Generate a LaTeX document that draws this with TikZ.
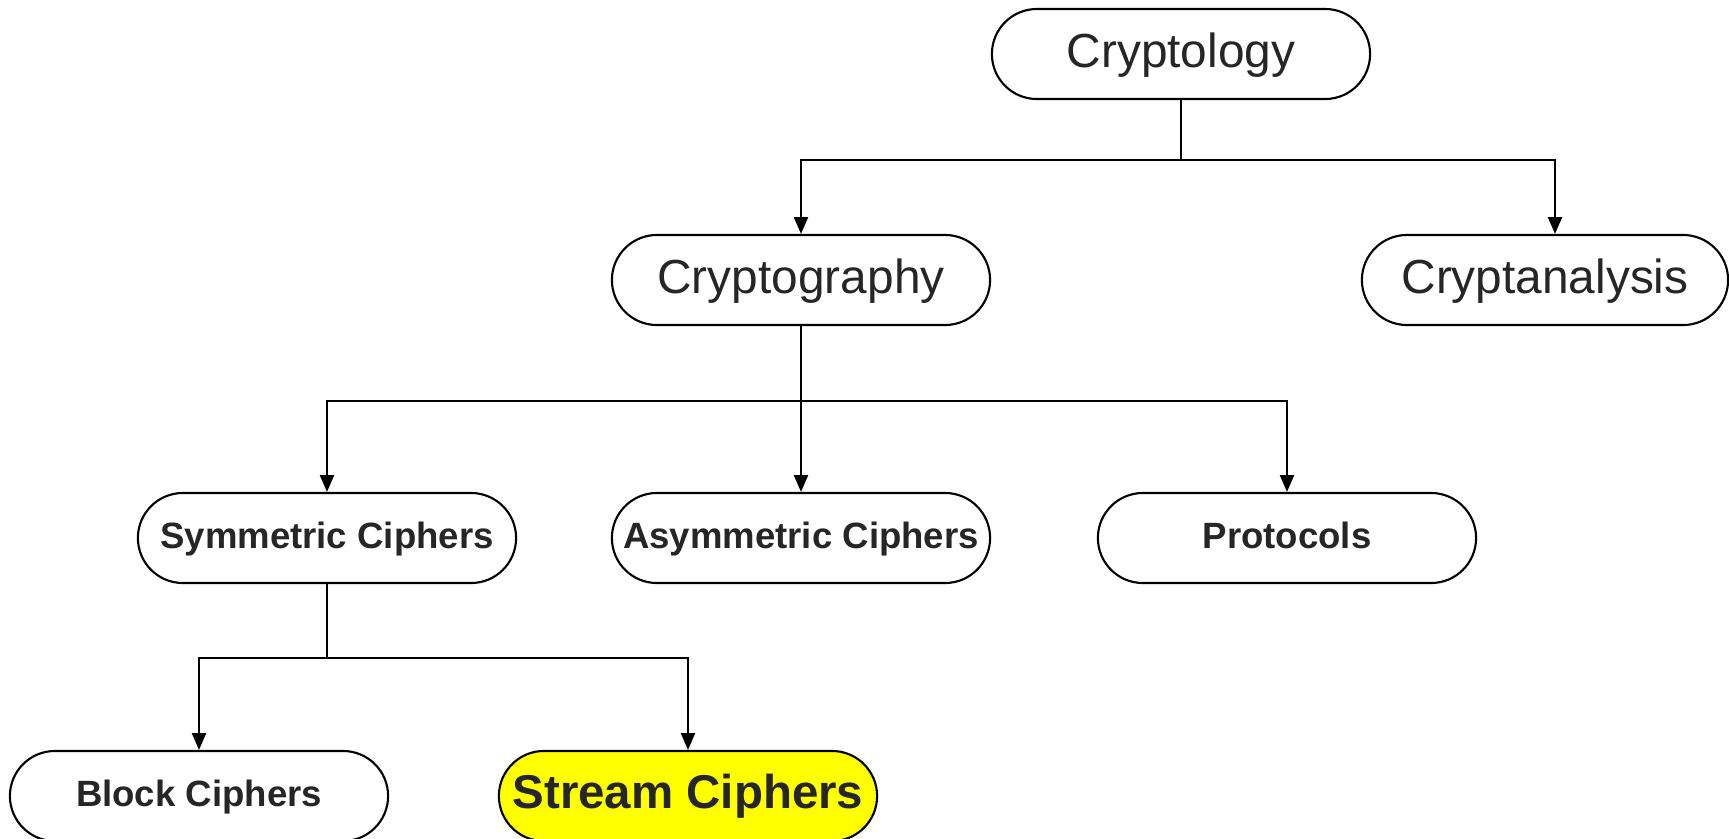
\documentclass[tikz,border=0pt]{standalone}
\usepackage{fontspec}
\setmainfont{Liberation Sans}
\usetikzlibrary{arrows.meta}
\definecolor{inkgray}{HTML}{262626}
\definecolor{streamyellow}{HTML}{FFFF00}

\begin{document}
\begin{tikzpicture}[x=0.01cm,y=-0.01cm,>={Triangle[length=4.8pt,width=4pt]}]
	\tikzset{
		term/.style={draw,line width=0.6pt,rounded corners=0.45cm,minimum width=3.78cm,minimum height=0.9cm,inner sep=0pt,text=inkgray},
		big/.style={term,font=\fontsize{13.6}{16}\selectfont,text height=10pt,text depth=2.4pt},
		small/.style={term,font=\fontsize{10.4}{12}\selectfont\bfseries,text height=8.2pt,text depth=2.2pt},
		link/.style={line width=0.6pt}
	}
	\useasboundingbox (0,0) rectangle (1729,839);
	
	% Top level
	\node[big] (cryptology) at (1181,54) {Cryptology};
	
	% Second level
	\node[big] (cryptography) at (801,280) {Cryptography};
	\node[big,minimum width=3.66cm] (cryptanalysis) at (1545,280) {Cryptanalysis};
	
	% Third level
	\node[small] (symmetric) at (327,538) {Symmetric Ciphers};
	\node[small] (asymmetric) at (801,538) {Asymmetric Ciphers};
	\node[small] (protocols) at (1287,538) {Protocols};
	
	% Fourth level
	\node[small] (block) at (199,796) {Block Ciphers};
	\node[small,fill=streamyellow,font=\fontsize{13.5}{16}\selectfont\bfseries,text height=10pt,text depth=2.8pt] (stream) at (688,796) {Stream Ciphers};
	
	% Branches
	\coordinate (topbus) at (cryptology.south |- 0,160);
	\draw[link] (cryptology.south) -- (topbus);
	\draw[link,->] (topbus) -| (cryptography.north);
	\draw[link,->] (topbus) -| ([xshift=0.1cm]cryptanalysis.north);
	
	\coordinate (midbus) at (cryptography.south |- 0,401);
	\draw[link] (cryptography.south) -- (midbus);
	\draw[link,->] (midbus) -| (symmetric.north);
	\draw[link,->] (midbus) -- (asymmetric.north);
	\draw[link,->] (midbus) -| (protocols.north);
	
	\coordinate (lowbus) at (symmetric.south |- 0,658);
	\draw[link] (symmetric.south) -- (lowbus);
	\draw[link,->] (lowbus) -| (block.north);
	\draw[link,->] (lowbus) -| (stream.north);
	
\end{tikzpicture}
\end{document}
